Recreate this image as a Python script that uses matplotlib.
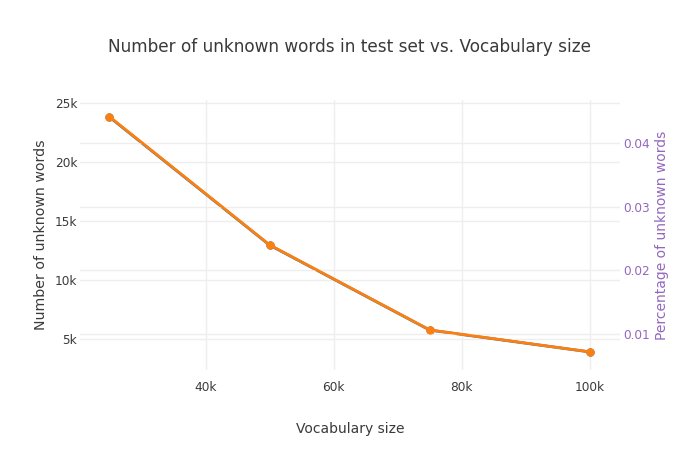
import matplotlib.pyplot as plt
from matplotlib.ticker import FuncFormatter

plt.rcParams['font.family'] = ['DejaVu Sans']

# data
vocab_size = [25000, 50000, 75000, 100000]
unknown_words = [23800, 12950, 5750, 3900]
unknown_pct = [0.0441, 0.0240, 0.01066, 0.00722]

fig = plt.figure(figsize=(7, 4.5), dpi=100)
ax = fig.add_axes([80 / 700, 80 / 450, 540 / 700, 270 / 450])
ax2 = ax.twinx()

grid_c = '#eeeeee'
text_c = '#3a3a3a'
purple = '#9467bd'

ax.plot(vocab_size, unknown_words, color='#1f77b4', lw=2, marker='o', ms=5, zorder=3)
ax2.plot(vocab_size, unknown_pct, color='#ff7f0e', lw=2, marker='o', ms=5, zorder=3)

ax.set_xlim(20400, 104700)
ax.set_ylim(2370, 25250)
ax2.set_ylim(0.004375, 0.04672)

ax.set_xticks([40000, 60000, 80000, 100000])
ax.set_yticks([5000, 10000, 15000, 20000, 25000])
ax2.set_yticks([0.01, 0.02, 0.03, 0.04])
kfmt = FuncFormatter(lambda v, p: f'{int(v / 1000)}k')
ax.xaxis.set_major_formatter(kfmt)
ax.yaxis.set_major_formatter(kfmt)

for a in (ax, ax2):
    for s in a.spines.values():
        s.set_visible(False)
    a.tick_params(length=0, labelsize=8.7, colors=text_c)
ax2.tick_params(axis='y', colors=purple, pad=2)
ax.tick_params(axis='y', pad=2)
ax.tick_params(axis='x', pad=8)

ax.grid(True, color=grid_c, lw=1)
ax2.grid(True, axis='y', color=grid_c, lw=1)
ax.set_axisbelow(True)
ax2.set_axisbelow(True)

ax.set_xlabel('Vocabulary size', fontsize=10, color=text_c, labelpad=20)
ax.set_ylabel('Number of unknown words', fontsize=10.2, color=text_c, labelpad=5)
ax2.set_ylabel('Percentage of unknown words', fontsize=10, color=purple, labelpad=4)

fig.suptitle('Number of unknown words in test set vs. Vocabulary size',
             fontsize=12.2, color=text_c, y=0.915)

plt.savefig('out.png')
